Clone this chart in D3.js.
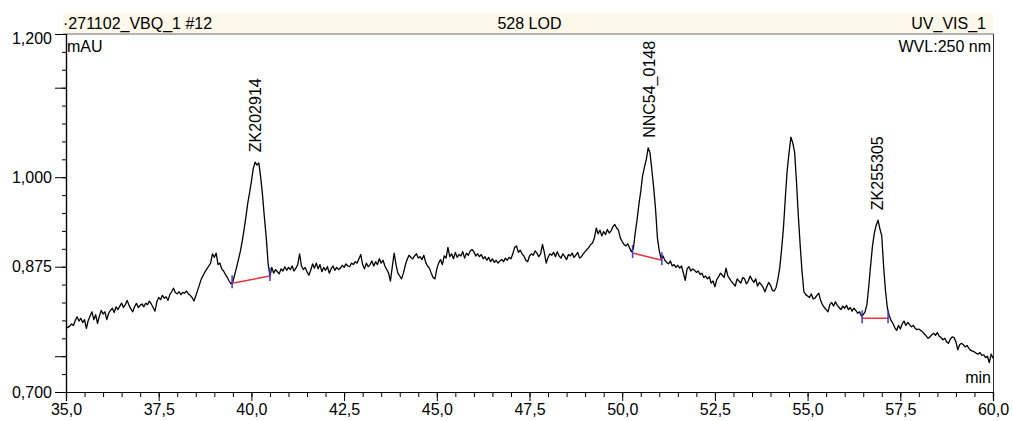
<!DOCTYPE html>
<html>
<head>
<meta charset="utf-8">
<script src="https://cdn.jsdelivr.net/npm/d3@7"></script>
<style>
  html, body { margin: 0; padding: 0; background: #ffffff; }
  svg { display: block; font-family: "Liberation Sans", Arial, sans-serif; }
</style>
</head>
<body>
<svg id="chart" width="1013" height="421"></svg>
<script>
// chromatogram header texts
const headerLeft = "\u00b7271102_VBQ_1 #12";
const headerMid = "528 LOD";
const headerRight = "UV_VIS_1";
const unitLabel = "mAU";
const wavelengthLabel = "WVL:250 nm";
const timeLabel = "min";

// axis ticks
const xMajorTicks = [35, 37.5, 40, 42.5, 45, 47.5, 50, 52.5, 55, 57.5, 60];
const xMinorTicks = d3.range(35, 60.01, 0.5);
const yLabelTicks = [0.7, 0.875, 1.0, 1.2];
const yLongTicks = [0.7, 0.75, 0.875, 1.0, 1.125, 1.2];
const yMinorTicks = d3.range(0.7, 1.2001, 0.025);

// detector signal, sampled every 0.05 min from 35.0 min
const startTime = 35.0;
const sampleStep = 0.05;
const absorbance = [
  0.791, 0.790, 0.792, 0.795, 0.793, 0.800, 0.805, 0.799, 0.803, 0.797, 0.801, 0.789, 0.800, 0.806, 0.812, 0.801, 0.808, 0.796, 0.806, 0.814,
  0.809, 0.812, 0.801, 0.810, 0.814, 0.817, 0.811, 0.819, 0.815, 0.820, 0.824, 0.818, 0.822, 0.828, 0.821, 0.816, 0.812, 0.819, 0.824, 0.818,
  0.821, 0.823, 0.819, 0.824, 0.822, 0.827, 0.823, 0.818, 0.813, 0.826, 0.832, 0.829, 0.835, 0.831, 0.833, 0.828, 0.836, 0.840, 0.845, 0.839,
  0.837, 0.840, 0.836, 0.839, 0.838, 0.841, 0.837, 0.835, 0.832, 0.827, 0.834, 0.842, 0.850, 0.858, 0.863, 0.868, 0.872, 0.876, 0.880, 0.893,
  0.888, 0.894, 0.878, 0.880, 0.872, 0.869, 0.864, 0.860, 0.855, 0.851, 0.854, 0.864, 0.874, 0.885, 0.896, 0.910, 0.926, 0.944, 0.963, 0.978,
  0.994, 1.012, 1.021, 1.017, 1.020, 1.000, 0.975, 0.944, 0.916, 0.880, 0.862, 0.874, 0.866, 0.871, 0.868, 0.865, 0.872, 0.869, 0.875, 0.870,
  0.874, 0.871, 0.876, 0.869, 0.873, 0.878, 0.893, 0.876, 0.871, 0.874, 0.868, 0.863, 0.870, 0.879, 0.873, 0.880, 0.872, 0.878, 0.868, 0.874,
  0.870, 0.875, 0.866, 0.872, 0.876, 0.870, 0.874, 0.871, 0.873, 0.877, 0.874, 0.879, 0.876, 0.875, 0.880, 0.878, 0.882, 0.880, 0.886, 0.892,
  0.878, 0.872, 0.880, 0.875, 0.878, 0.883, 0.876, 0.882, 0.878, 0.886, 0.880, 0.884, 0.876, 0.871, 0.866, 0.855, 0.875, 0.894, 0.878, 0.866,
  0.862, 0.858, 0.866, 0.877, 0.885, 0.891, 0.888, 0.886, 0.890, 0.893, 0.887, 0.889, 0.885, 0.891, 0.881, 0.876, 0.873, 0.866, 0.860, 0.858,
  0.872, 0.880, 0.885, 0.878, 0.890, 0.887, 0.902, 0.889, 0.893, 0.886, 0.895, 0.888, 0.892, 0.890, 0.896, 0.887, 0.894, 0.891, 0.897, 0.899,
  0.896, 0.890, 0.893, 0.889, 0.892, 0.886, 0.889, 0.884, 0.888, 0.882, 0.886, 0.881, 0.884, 0.880, 0.883, 0.885, 0.882, 0.887, 0.884, 0.888,
  0.886, 0.893, 0.902, 0.904, 0.895, 0.898, 0.893, 0.890, 0.884, 0.882, 0.890, 0.893, 0.891, 0.897, 0.894, 0.889, 0.893, 0.906, 0.895, 0.880,
  0.888, 0.893, 0.891, 0.895, 0.889, 0.896, 0.890, 0.887, 0.893, 0.889, 0.885, 0.892, 0.890, 0.894, 0.888, 0.891, 0.895, 0.887, 0.889, 0.893,
  0.896, 0.899, 0.902, 0.906, 0.908, 0.915, 0.929, 0.921, 0.926, 0.918, 0.924, 0.920, 0.927, 0.922, 0.925, 0.931, 0.934, 0.929, 0.926, 0.915,
  0.910, 0.906, 0.904, 0.907, 0.901, 0.896, 0.900, 0.922, 0.940, 0.962, 0.980, 1.002, 1.014, 1.025, 1.041, 1.034, 1.010, 0.985, 0.955, 0.915,
  0.897, 0.886, 0.890, 0.884, 0.881, 0.879, 0.883, 0.876, 0.878, 0.874, 0.877, 0.873, 0.876, 0.866, 0.856, 0.872, 0.875, 0.869, 0.872, 0.870,
  0.867, 0.869, 0.864, 0.866, 0.860, 0.862, 0.858, 0.861, 0.852, 0.855, 0.847, 0.857, 0.861, 0.866, 0.863, 0.860, 0.873, 0.862, 0.858, 0.854,
  0.851, 0.848, 0.858, 0.855, 0.852, 0.860, 0.858, 0.851, 0.855, 0.862, 0.857, 0.853, 0.858, 0.848, 0.853, 0.850, 0.846, 0.840, 0.847, 0.853,
  0.849, 0.842, 0.841, 0.846, 0.858, 0.874, 0.900, 0.930, 0.972, 1.010, 1.034, 1.056, 1.048, 1.035, 0.994, 0.946, 0.905, 0.868, 0.840, 0.836,
  0.834, 0.832, 0.837, 0.830, 0.831, 0.835, 0.838, 0.828, 0.822, 0.818, 0.815, 0.812, 0.822, 0.825, 0.820, 0.826, 0.821, 0.818, 0.815, 0.820,
  0.817, 0.821, 0.815, 0.818, 0.813, 0.817, 0.814, 0.810, 0.812, 0.806, 0.808, 0.812, 0.822, 0.848, 0.877, 0.904, 0.922, 0.933, 0.940, 0.928,
  0.918, 0.875, 0.842, 0.818, 0.807, 0.800, 0.796, 0.790, 0.786, 0.793, 0.788, 0.795, 0.799, 0.793, 0.797, 0.794, 0.791, 0.793, 0.789, 0.787,
  0.788, 0.786, 0.784, 0.781, 0.778, 0.775, 0.777, 0.780, 0.782, 0.779, 0.783, 0.778, 0.776, 0.773, 0.775, 0.770, 0.768, 0.774, 0.777, 0.776,
  0.770, 0.759, 0.766, 0.768, 0.766, 0.763, 0.765, 0.761, 0.758, 0.757, 0.756, 0.754, 0.753, 0.755, 0.751, 0.752, 0.748, 0.750, 0.741, 0.753,
  0.747
];

// integrated peaks
const peakNames = ["ZK202914", "NNC54_0148", "ZK255305"];
const peakApexTime = [40.12, 50.72, 56.88];
const peakApexValue = [1.021, 1.041, 0.940];
const peakStartTime = [39.48, 50.28, 56.47];
const peakEndTime = [40.50, 51.07, 57.17];
const baseStartValue = [0.852, 0.894, 0.803];
const baseEndValue = [0.862, 0.884, 0.803];

const svg = d3.select("#chart");
const plotLeft = 66, plotRight = 993, plotTop = 34, plotBottom = 392;

const x = d3.scaleLinear().domain([35, 60]).range([plotLeft, plotRight]);
const y = d3.scaleLinear().domain([0.7, 1.2]).range([plotBottom, plotTop]);

const de = d3.formatLocale({decimal: ",", thousands: ".", grouping: [3], currency: ["", ""]});
const fx = de.format(".1f");
const fy = de.format(".3f");

// header band
svg.append("rect")
   .attr("x", 63).attr("y", 13)
   .attr("width", plotRight - 63).attr("height", plotTop - 13)
   .attr("fill", "#fdf8e9");
svg.append("line")
   .attr("x1", 63).attr("x2", plotRight + 1)
   .attr("y1", plotTop).attr("y2", plotTop)
   .attr("stroke", "#9a9a9a").attr("stroke-width", 1.5);

svg.append("text").attr("x", 63).attr("y", 29)
   .attr("font-size", 16).text(headerLeft);
svg.append("text").attr("x", (plotLeft + plotRight) / 2).attr("y", 29)
   .attr("text-anchor", "middle").attr("font-size", 16).text(headerMid);
svg.append("text").attr("x", 986).attr("y", 29)
   .attr("text-anchor", "end").attr("font-size", 16).text(headerRight);

// right border
svg.append("line")
   .attr("x1", plotRight + 0.5).attr("x2", plotRight + 0.5)
   .attr("y1", plotTop).attr("y2", plotBottom)
   .attr("stroke", "#333").attr("stroke-width", 1);

// x axis
const xMinor = svg.append("g").attr("transform", `translate(0,${plotBottom})`)
   .call(d3.axisBottom(x).tickValues(xMinorTicks).tickSize(5).tickFormat(""));
const xMajor = svg.append("g").attr("transform", `translate(0,${plotBottom})`)
   .call(d3.axisBottom(x).tickValues(xMajorTicks).tickSize(9).tickPadding(3).tickFormat(fx));
xMajor.selectAll("text").attr("font-size", 16).attr("fill", "#000")
   .attr("font-family", "Liberation Sans, Arial, sans-serif");

// y axis
const yMinor = svg.append("g").attr("transform", `translate(${plotLeft},0)`)
   .call(d3.axisLeft(y).tickValues(yMinorTicks).tickSize(4).tickFormat(""));
const yMajor = svg.append("g").attr("transform", `translate(${plotLeft},0)`)
   .call(d3.axisLeft(y).tickValues(yLongTicks).tickSize(11).tickPadding(3)
     .tickFormat(d => yLabelTicks.some(v => Math.abs(v - d) < 1e-6) ? fy(d) : ""));
yMajor.selectAll("text").attr("font-size", 16).attr("fill", "#000")
   .attr("font-family", "Liberation Sans, Arial, sans-serif");
yMajor.selectAll(".tick").filter(d => d === 1.2).select("text").attr("dy", "0.6em");

[xMinor, xMajor, yMinor, yMajor].forEach(g => {
  g.select(".domain").attr("stroke", "#000").attr("stroke-width", 1.2);
  g.selectAll(".tick line").attr("stroke", "#000");
});

// unit labels
svg.append("text").attr("x", plotLeft + 1).attr("y", 52)
   .attr("font-size", 16).text(unitLabel);
svg.append("text").attr("x", plotRight - 2).attr("y", 52)
   .attr("text-anchor", "end").attr("font-size", 16).text(wavelengthLabel);
svg.append("text").attr("x", plotRight - 2).attr("y", 383)
   .attr("text-anchor", "end").attr("font-size", 16).text(timeLabel);

// trace
const line = d3.line()
   .x((d, i) => x(startTime + i * sampleStep))
   .y(d => y(d));
svg.append("path")
   .datum(absorbance)
   .attr("fill", "none")
   .attr("stroke", "#000")
   .attr("stroke-width", 1.3)
   .attr("stroke-linejoin", "round")
   .attr("d", line);

// peak baselines and delimiters
peakNames.forEach((name, i) => {
  svg.append("line")
     .attr("x1", x(peakStartTime[i])).attr("y1", y(baseStartValue[i]))
     .attr("x2", x(peakEndTime[i])).attr("y2", y(baseEndValue[i]))
     .attr("stroke", "#e8323c").attr("stroke-width", 1.5);
  [[peakStartTime[i], baseStartValue[i]], [peakEndTime[i], baseEndValue[i]]].forEach(([t, v]) => {
    svg.append("line")
       .attr("x1", x(t)).attr("x2", x(t))
       .attr("y1", y(v) - 8).attr("y2", y(v) + 5)
       .attr("stroke", "#3a3ad6").attr("stroke-width", 1.5);
  });
  svg.append("text")
     .attr("transform", `translate(${x(peakApexTime[i])},${y(peakApexValue[i]) - 10}) rotate(-90)`)
     .attr("text-anchor", "start")
     .attr("dy", "0.35em")
     .attr("font-size", 16)
     .text(name);
});
</script>
</body>
</html>
